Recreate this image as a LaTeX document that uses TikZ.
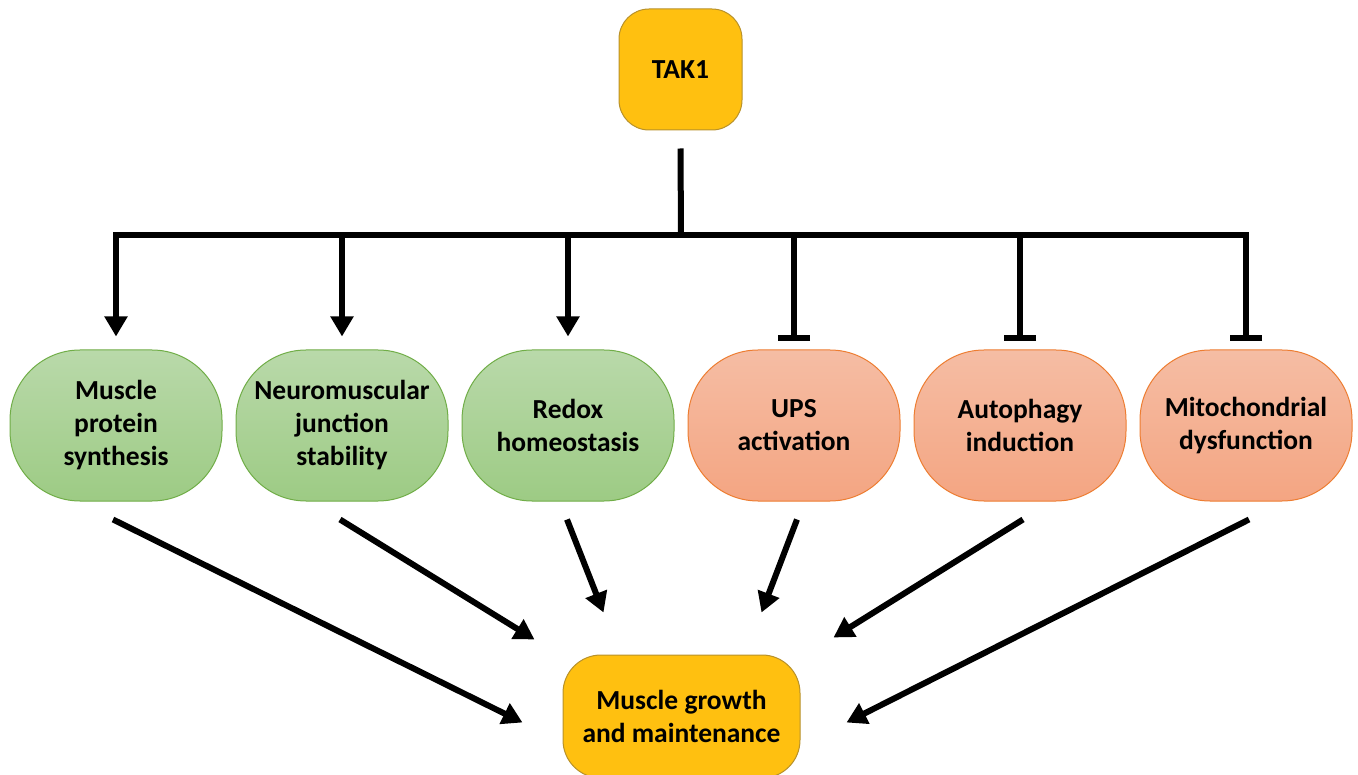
\documentclass[tikz,border=0pt]{standalone}
\usepackage{fontspec}
\setmainfont{Carlito}
\usetikzlibrary{arrows.meta,calc}
\definecolor{takfill}{HTML}{FFC010}
\definecolor{takdraw}{HTML}{B8912A}
\definecolor{gtop}{HTML}{B9D9AA}
\definecolor{gbot}{HTML}{9DCB84}
\definecolor{gdraw}{HTML}{70AD47}
\definecolor{otop}{HTML}{F5BDA4}
\definecolor{obot}{HTML}{F4A582}
\definecolor{odraw}{HTML}{ED7D31}
\begin{document}
\begin{tikzpicture}[x=1pt,y=-1pt,
  font=\bfseries\fontsize{27.5}{33}\selectfont,
  tak/.style={draw=takdraw, fill=takfill, line width=1pt, align=center},
  gnode/.style={draw=gdraw, top color=gtop, bottom color=gbot, rounded corners=70pt,
     minimum width=212pt, minimum height=151pt, align=center, line width=1pt, inner sep=0pt},
  onode/.style={gnode, draw=odraw, top color=otop, bottom color=obot},
  ln/.style={line width=6pt, draw=black},
  arr/.style={ln, -{Triangle[length=20pt,width=22pt]}},
  inh/.style={ln, -{Bar[width=32pt]}}
]
\useasboundingbox (0,0) rectangle (1358,775);
\node[tak, rounded corners=30pt, minimum width=123pt, minimum height=121pt] (tak) at (680.5,69.5) {TAK1};
\node[gnode] (n1) at (116,425.5) {Muscle\\protein\\synthesis};
\node[gnode] (n2) at (342,425.5) {Neuromuscular\\junction\\stability};
\node[gnode] (n3) at (568,425.5) {Redox\\homeostasis};
\node[onode] (n4) at (794,425.5) {UPS\\activation};
\node[onode] (n5) at (1020,425.5) {Autophagy\\induction};
\node[onode] (n6) at (1246,425.5) {Mitochondrial\\dysfunction};
\node[tak, rounded corners=38pt, minimum width=237pt, minimum height=123pt] (bot) at (681.5,716.5) {Muscle growth\\and maintenance};
\coordinate (J) at (681,235);
\draw[ln] ([yshift=-18pt]tak.south) -- (J);
\draw[ln, line cap=rect] (n1.north |- J) -- (n6.north |- J);
\draw[arr] (n1.north |- J) -- ([yshift=13pt]n1.north);
\draw[arr] (n2.north |- J) -- ([yshift=13pt]n2.north);
\draw[arr] (n3.north |- J) -- ([yshift=13pt]n3.north);
\draw[inh] (n4.north |- J) -- ([yshift=8pt]n4.north);
\draw[inh] (n5.north |- J) -- ([yshift=8pt]n5.north);
\draw[inh] (n6.north |- J) -- ([yshift=8pt]n6.north);
\draw[arr] ([xshift=-3pt,yshift=-18pt]n1.south) -- ([xshift=-40pt,yshift=-6pt]bot.west);
\draw[arr] ([xshift=-2pt,yshift=-18pt]n2.south) -- ([xshift=-28pt,yshift=15pt]bot.north west);
\draw[arr] ([xshift=-1pt,yshift=-18pt]n3.south) -- ([xshift=41pt,yshift=42pt]bot.north west);
\draw[arr] ([xshift=3pt,yshift=-18pt]n4.south) -- ([xshift=-39pt,yshift=42pt]bot.north east);
\draw[arr] ([xshift=3pt,yshift=-18pt]n5.south) -- ([xshift=33pt,yshift=17pt]bot.north east);
\draw[arr] ([xshift=3pt,yshift=-18pt]n6.south) -- ([xshift=46pt,yshift=-6pt]bot.east);
\end{tikzpicture}
\end{document}
